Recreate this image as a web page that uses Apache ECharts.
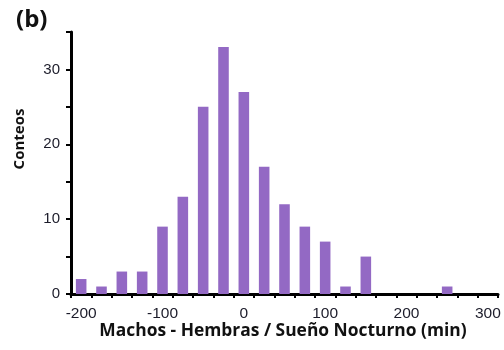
<!DOCTYPE html>
<html>
<head>
<meta charset="utf-8">
<script src="https://cdn.jsdelivr.net/npm/echarts@6/dist/echarts.min.js"></script>
<style>html,body{margin:0;padding:0;background:#fff}#c{width:504px;height:350px}</style>
</head>
<body>
<div id="c"></div>
<script>
const bins = ['-200','-175','-150','-125','-100','-75','-50','-25','0','25','50','75','100','125','150','175','200','225','250','275','300'];
const counts = [2,1,3,3,9,13,25,33,27,17,12,9,7,1,5,0,0,0,1,0,0];
const yTicks = [0,10,20,30];
const xLabelName = 'Machos - Hembras / Sueño Nocturno (min)';
const yLabelName = 'Conteos';
const panel = '(b)';

const chart = echarts.init(document.getElementById('c'), null, {renderer:'canvas'});
chart.setOption({
  animation: false,
  title: {text: panel, left: 11, top: 3, textStyle: {fontFamily: 'Open Sans', fontWeight: 'bold', fontSize: 24, color: '#111'}},
  grid: {left: 71, right: 6, top: 32, bottom: 56},
  graphic: [
    {type: 'text', x: 283, y: 331, style: {text: xLabelName, font: 'bold 17.4px "Open Sans"', fill: '#111', align: 'center', verticalAlign: 'middle'}},
    {type: 'text', x: 20, y: 139, rotation: Math.PI / 2, style: {text: yLabelName, font: 'bold 15px "Open Sans"', fill: '#111', align: 'center', verticalAlign: 'middle'}}
  ],
  xAxis: {
    type: 'category', data: bins, boundaryGap: true,
    axisLine: {lineStyle: {color: '#000', width: 3}},
    axisTick: {show: true, interval: 0, length: 4, lineStyle: {color: '#000', width: 2}},
    axisLabel: {interval: 3, fontFamily: 'Liberation Sans', fontSize: 15.5, color: '#1c1c2a', margin: 12}
  },
  yAxis: {
    type: 'value', min: 0, max: 35, interval: 5,
    axisLine: {show: true, lineStyle: {color: '#000', width: 3}},
    axisTick: {show: true, length: 5, lineStyle: {color: '#000', width: 2}},
    splitLine: {show: false},
    axisLabel: {fontFamily: 'Liberation Sans', fontSize: 15, color: '#1c1c2a', margin: 11,
      formatter: v => yTicks.includes(v) ? String(v) : ''}
  },
  series: [{
    type: 'bar', data: counts, barWidth: '52%',
    itemStyle: {color: '#9369c4'}
  }]
});
</script>
</body>
</html>
